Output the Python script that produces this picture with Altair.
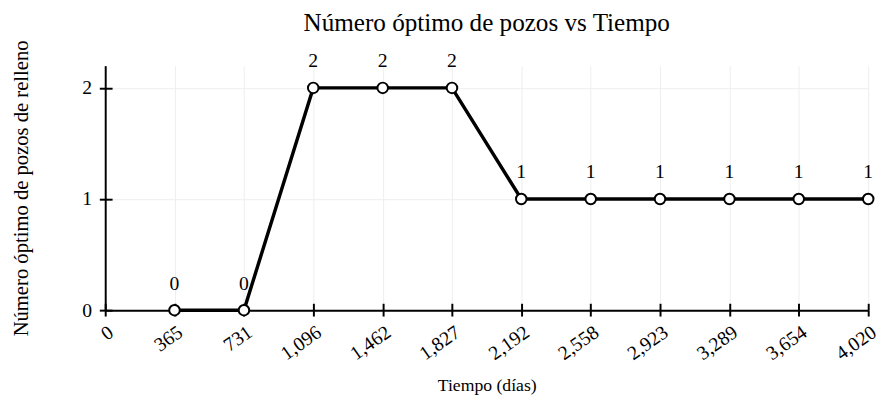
import altair as alt
import pandas as pd

tiempo = [365, 731, 1096, 1462, 1827, 2192, 2558, 2923, 3289, 3654, 4020]
pozos = [0, 0, 2, 2, 2, 1, 1, 1, 1, 1, 1]
x_ticks = [0, 365, 731, 1096, 1462, 1827, 2192, 2558, 2923, 3289, 3654, 4020]
y_ticks = [0, 1, 2]

df = pd.DataFrame({"t": tiempo, "n": pozos})
FONT = "Liberation Serif"
W, H = 777, 249
LBL = 20

common = dict(labelFont=FONT, titleFont=FONT, labelFontSize=LBL,
              titleFontWeight="normal", labelColor="black", titleColor="black",
              tickColor="black", domainColor="black", domainWidth=2, tickWidth=2,
              gridColor="#eeeeee", tickSize=6)

xs = alt.Scale(domain=[0, 4020], nice=False)
ys = alt.Scale(domain=[0, 2.2], nice=False)

x_enc = alt.X("t:Q", scale=xs, title="Tiempo (días)",
              axis=alt.Axis(values=x_ticks, labelExpr="format(datum.value, ',')",
                            labelAngle=325, labelAlign="right", labelBaseline="top",
                            labelPadding=6, titlePadding=14, titleFontSize=18, **common))
y_enc = alt.Y("n:Q", scale=ys, title="Número óptimo de pozos de relleno",
              axis=alt.Axis(values=y_ticks, labelExpr="format(datum.value, 'd')",
                            labelPadding=8, titlePadding=51, titleFontSize=21, **common))

base = alt.Chart(df)
line = base.mark_line(color="black", strokeWidth=3.5).encode(x=x_enc, y=y_enc)
pts = base.mark_point(filled=True, fill="white", stroke="black",
                      strokeWidth=2, size=115, opacity=1).encode(x=x_enc, y=y_enc)
txt = base.mark_text(dy=-27, fontSize=LBL, font=FONT, color="black").encode(
    x=x_enc, y=y_enc, text="n:Q")

# inner half of the crossing ticks
xin = base.mark_point(opacity=0).encode(
    x=alt.X("t:Q", scale=xs, axis=alt.Axis(orient="top", offset=-H,
            values=x_ticks, labels=False, domain=False, grid=False,
            tickSize=7, tickWidth=2, tickColor="black", title=None)))
yin = base.mark_point(opacity=0).encode(
    y=alt.Y("n:Q", scale=ys, axis=alt.Axis(orient="right", offset=-W,
            values=y_ticks, labels=False, domain=False, grid=False,
            tickSize=7, tickWidth=2, tickColor="black", title=None)))

main = alt.layer(line, pts, txt)
chart = alt.layer(main, xin, yin).resolve_axis(x="independent", y="independent").properties(
    width=W, height=H,
    autosize=alt.AutoSizeParams(type="none"),
    padding={"left": 99, "top": 55, "right": 12, "bottom": 100},
    title=alt.TitleParams("Número óptimo de pozos vs Tiempo", fontSize=25.6,
                          font=FONT, fontWeight="normal", frame="group",
                          offset=3, color="black"),
).configure_view(stroke=None)

chart.save("out.html", embed_options={"renderer": "svg", "actions": False})
